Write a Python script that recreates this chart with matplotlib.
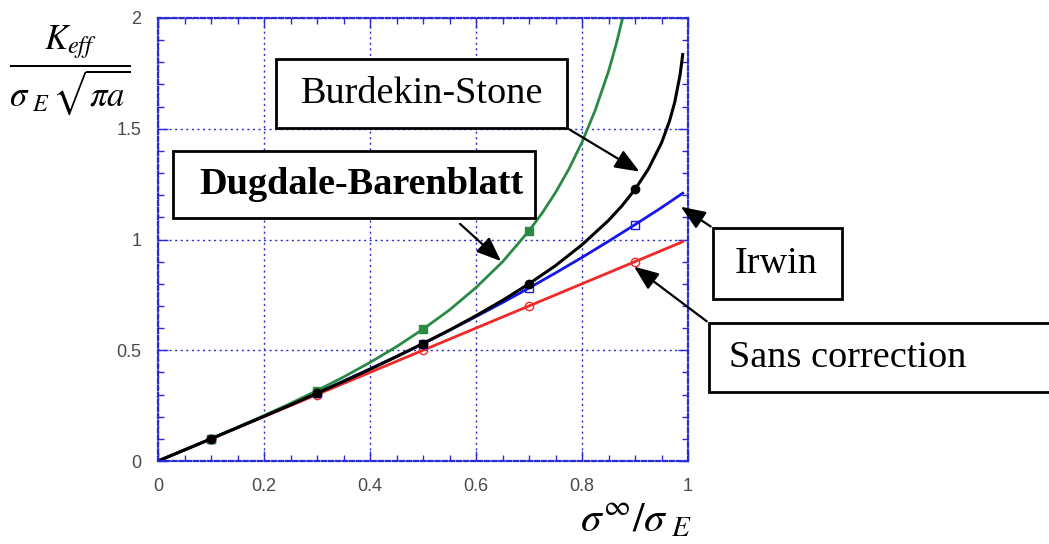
import matplotlib
matplotlib.use("Agg")
import matplotlib.pyplot as plt
from matplotlib.patches import Rectangle
from matplotlib.ticker import MultipleLocator

plt.rcParams['mathtext.fontset'] = 'stix'

# values (sigma_inf / sigma_E)
s_fine = [0, 0.05, 0.1, 0.15, 0.2, 0.25, 0.3, 0.35, 0.4, 0.45, 0.5, 0.55,
          0.6, 0.65, 0.7, 0.75, 0.8, 0.85, 0.875, 0.9, 0.925, 0.95, 0.965,
          0.975, 0.985, 0.99]
burdekin = [0, 0.050, 0.100, 0.151, 0.202, 0.253, 0.306, 0.359, 0.414, 0.471,
            0.530, 0.591, 0.656, 0.725, 0.800, 0.882, 0.976, 1.086, 1.151,
            1.226, 1.317, 1.436, 1.534, 1.620, 1.743, 1.835]

s_irwin = [0, 0.05, 0.1, 0.15, 0.2, 0.25, 0.3, 0.35, 0.4, 0.45, 0.5, 0.55,
           0.6, 0.65, 0.7, 0.75, 0.8, 0.85, 0.9, 0.95, 0.99]
irwin = [0, 0.050, 0.100, 0.151, 0.202, 0.254, 0.307, 0.361, 0.416, 0.472,
         0.530, 0.590, 0.652, 0.715, 0.781, 0.849, 0.919, 0.992, 1.067,
         1.144, 1.209]

s_dug = [0, 0.05, 0.1, 0.15, 0.2, 0.25, 0.3, 0.35, 0.4, 0.45, 0.5, 0.55,
         0.6, 0.65, 0.7, 0.725, 0.75, 0.775, 0.8, 0.825, 0.85, 0.865, 0.88]
dugdale = [0, 0.050, 0.101, 0.152, 0.205, 0.260, 0.318, 0.379, 0.445, 0.516,
           0.595, 0.682, 0.783, 0.899, 1.039, 1.120, 1.212, 1.317, 1.439,
           1.584, 1.759, 1.886, 2.033]

s_sans = [0, 0.99]
sans = [0, 0.99]

s_mark = [0.1, 0.3, 0.5, 0.7, 0.9]
burdekin_mark = [0.100, 0.306, 0.530, 0.800, 1.226]
irwin_mark = [0.100, 0.307, 0.530, 0.781, 1.067]
sans_mark = [0.1, 0.3, 0.5, 0.7, 0.9]
s_mark_dug = [0.1, 0.3, 0.5, 0.7]
dugdale_mark = [0.101, 0.318, 0.595, 1.039]

x_ticks = [0, 0.2, 0.4, 0.6, 0.8, 1]
x_labels = ['0', '0.2', '0.4', '0.6', '0.8', '1']
y_ticks = [0, 0.5, 1, 1.5, 2]
y_labels = ['0', '0.5', '1', '1.5', '2']

blue = '#2a2ad0'
green = '#2a8a45'
red = '#f02828'

fig = plt.figure(figsize=(10.49, 5.44), dpi=100)
ax = fig.add_axes([158/1049, 1-461/544, 530/1049, 443/544])

ax.plot(s_sans, sans, color=red, lw=2)
ax.plot(sans_mark, sans_mark, 'o', mfc='none', mec=red, ms=6, mew=1)
ax.plot(s_irwin, irwin, color='#1515ee', lw=2)
ax.plot(s_mark, irwin_mark, 's', mfc='none', mec='#1515ee', ms=6, mew=1)
ax.plot(s_dug, dugdale, color=green, lw=2)
ax.plot(s_mark_dug, dugdale_mark, 's', color=green, ms=6)
ax.plot(s_fine, burdekin, color='black', lw=2.2)
ax.plot(s_mark, burdekin_mark, 'o', color='black', ms=6)

ax.set_xlim(0, 1)
ax.set_ylim(0, 2)
ax.set_xticks(x_ticks)
ax.set_xticklabels(x_labels)
ax.set_yticks(y_ticks)
ax.set_yticklabels(y_labels)
ax.xaxis.set_minor_locator(MultipleLocator(0.05))
ax.yaxis.set_minor_locator(MultipleLocator(0.1))
ax.grid(True, which='major', color=blue, ls=(0, (1.5, 2.5)), lw=1)
ax.tick_params(which='both', direction='in', top=True, right=True,
               color=blue, labelcolor='#4a4a4a', labelsize=13,
               labelfontfamily='Liberation Sans')
ax.tick_params(which='major', length=7, width=1, pad=12)
ax.tick_params(which='minor', length=4, width=1)
for sp in ax.spines.values():
    sp.set_color(blue)
    sp.set_linestyle((0, (2, 1.2)))
    sp.set_linewidth(1.6)

# axis labels
fig.text(70/1049, 1-70/544, r'$\dfrac{K_{eff}}{\sigma_{\ E}\,\sqrt{\pi a}}$',
         fontsize=25, ha='center', va='center')
fig.text(636/1049, 1-519/544, r'$\sigma^{\infty}/\sigma_{\ E}$',
         fontsize=30, ha='center', va='center')

# annotation boxes (pixel extents)
boxes = [
    (276, 59, 567, 128, 'Burdekin-Stone', 'normal', 422),
    (173, 151, 535, 218, 'Dugdale-Barenblatt', 'bold', 361),
    (713, 228, 842, 299, 'Irwin', 'normal', 776),
    (709, 323, 1070, 392, 'Sans correction', 'normal', 848),
]
for x0, y0, x1, y1, txt, wt, xc in boxes:
    fig.patches.append(Rectangle((x0/1049, 1-y1/544), (x1-x0)/1049, (y1-y0)/544,
                                 transform=fig.transFigure, fill=True,
                                 fc='white', ec='black', lw=2, clip_on=False,
                                 zorder=5))
    fig.text(xc/1049, 1-(y0+y1)/2/544, txt, fontsize=27.5, fontweight=wt,
             family='Liberation Serif', ha='center', va='center', zorder=6)

arrows = [
    ((567, 128), (0.913, 1.30)),
    ((458, 222), (0.651, 0.894)),
    ((713, 228), (0.982, 1.155)),
    ((709, 323), (0.894, 0.885)),
]
for (px, py), tip in arrows:
    ax.annotate('', xy=tip, xycoords='data',
                xytext=(px, 544-py), textcoords='figure pixels',
                arrowprops=dict(arrowstyle='-|>,head_length=1.5,head_width=0.6',
                                color='black', lw=1.6),
                annotation_clip=False, zorder=7)

fig.savefig('out.png', dpi=100)
